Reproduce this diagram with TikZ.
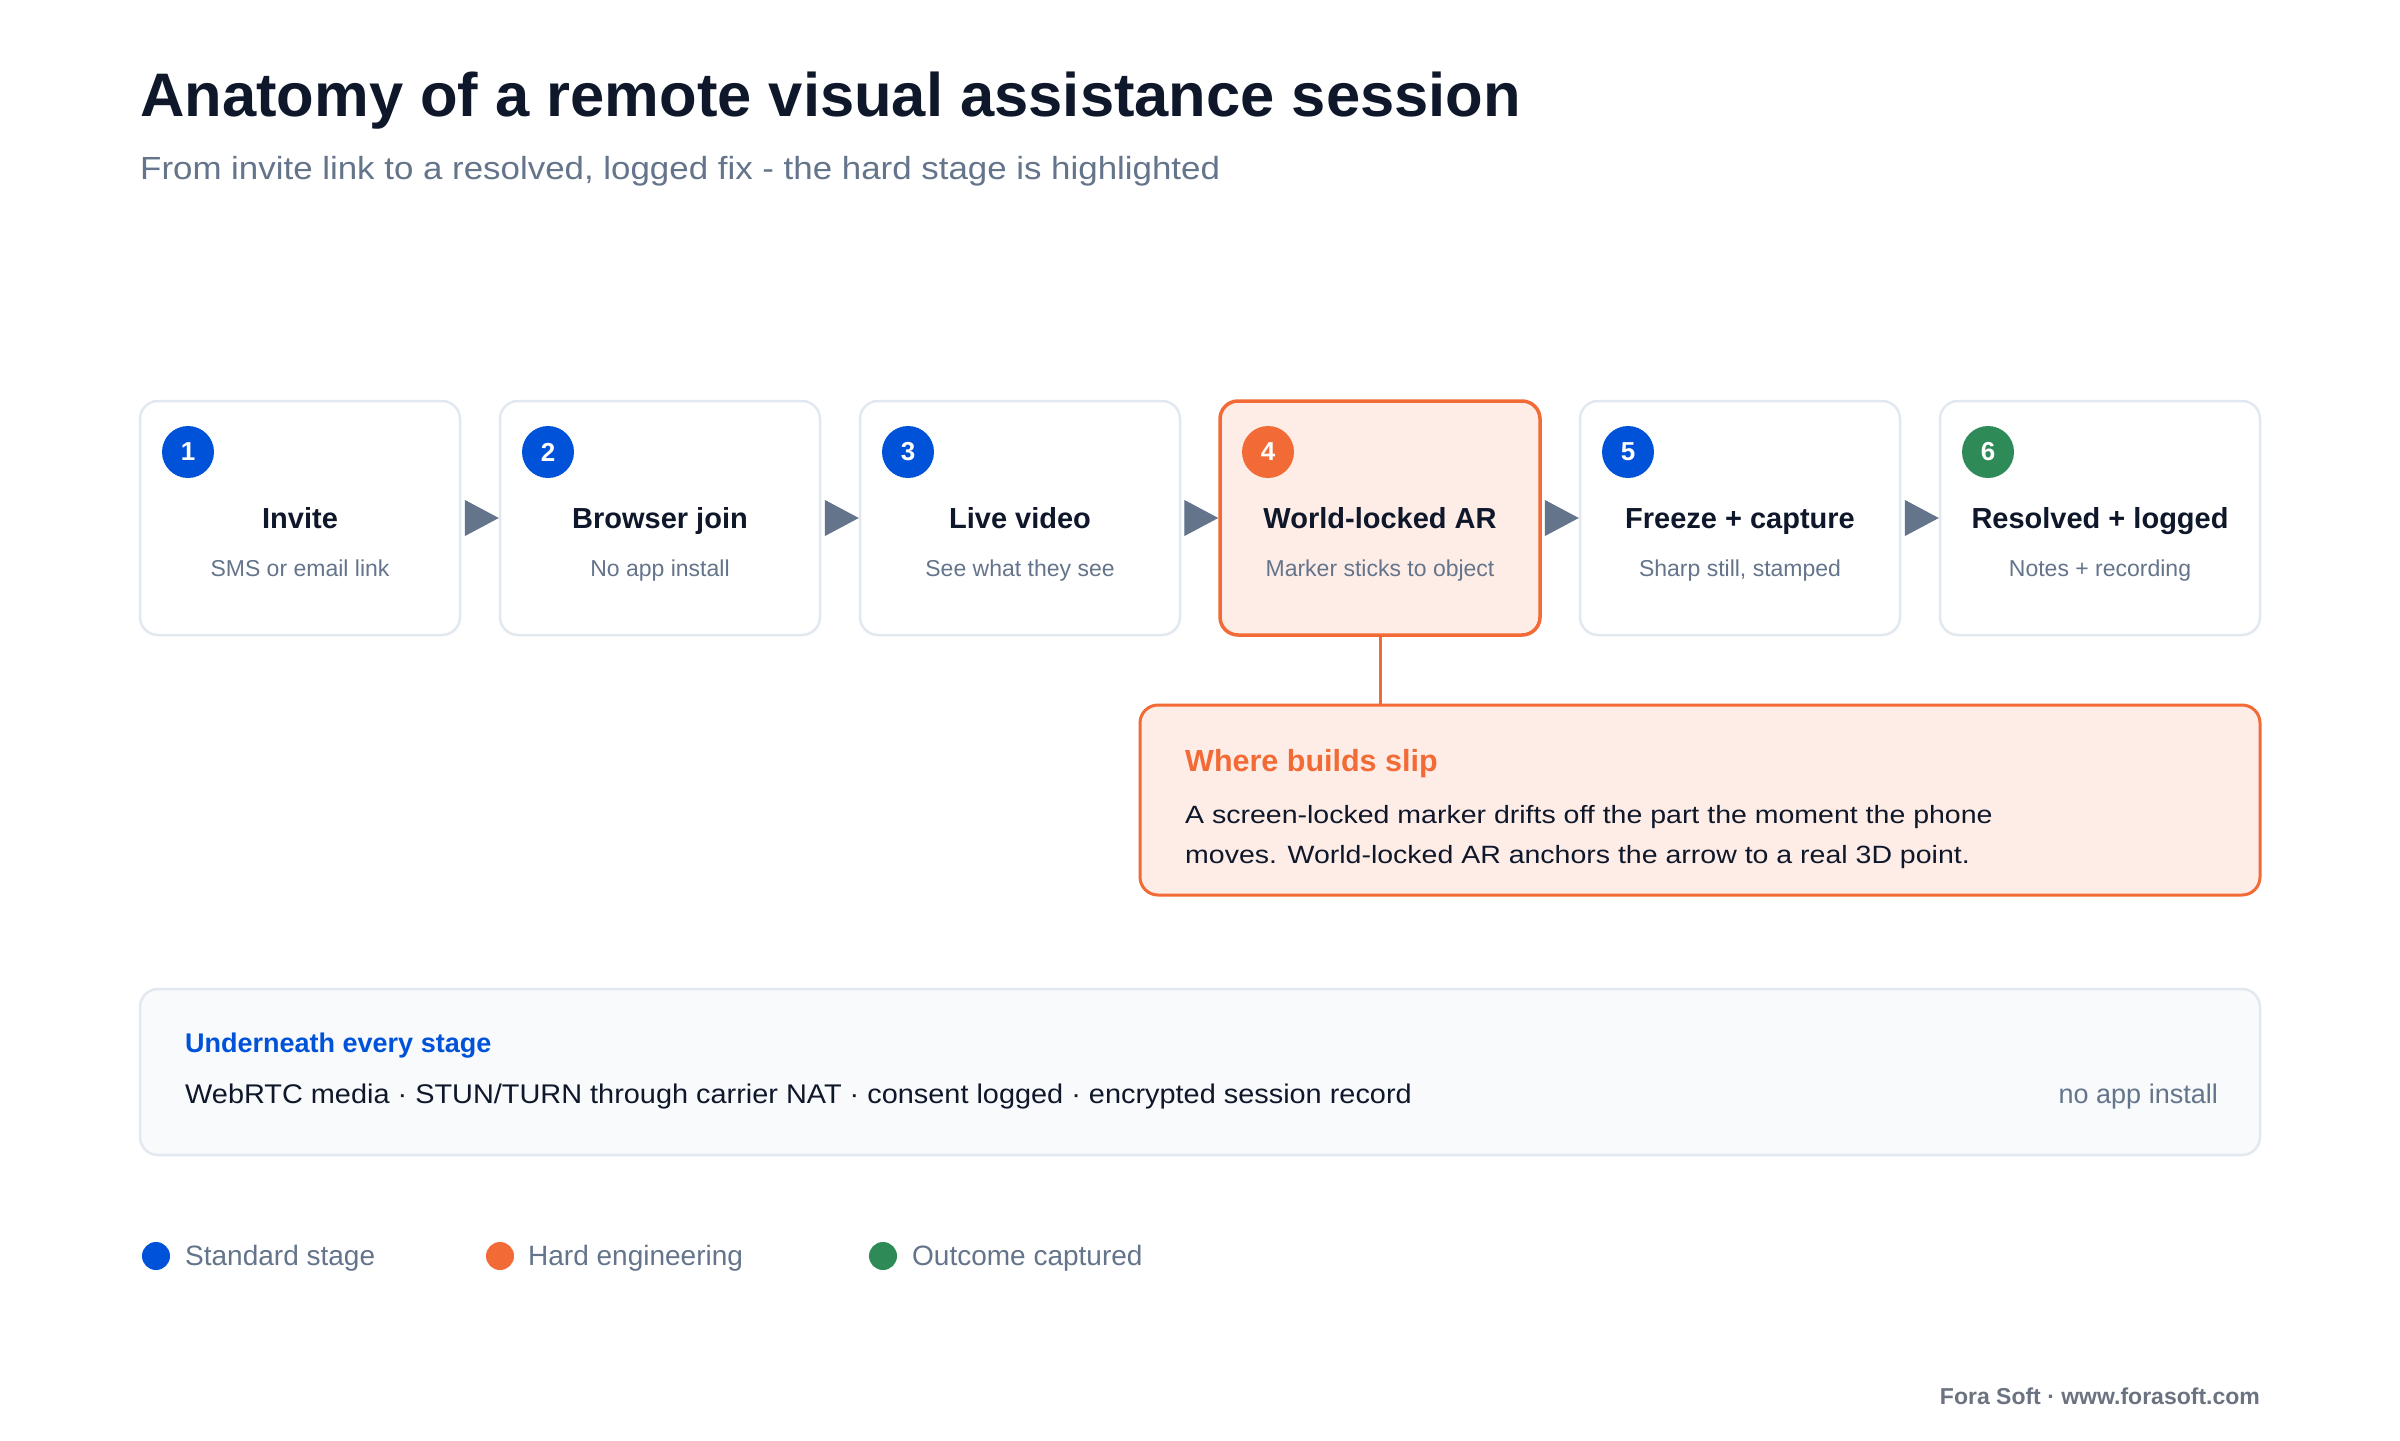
\documentclass[tikz,border=0pt]{standalone}
\usepackage{fontspec}
\setmainfont{Liberation Sans}
\newfontfamily\wideB[FakeStretch=1.09]{Liberation Sans}
\newfontfamily\wideC[FakeStretch=1.14]{Liberation Sans}
\newfontfamily\wideD[FakeStretch=1.07]{Liberation Sans}
\usetikzlibrary{arrows.meta}
\definecolor{ink}{HTML}{0F172A}
\definecolor{slate}{HTML}{64748B}
\definecolor{edgegray}{HTML}{E2E8F0}
\definecolor{blueS}{HTML}{0052D9}
\definecolor{orangeS}{HTML}{F26A35}
\definecolor{orangeBg}{HTML}{FDEDE6}
\definecolor{greenS}{HTML}{2E8A57}
\definecolor{panel}{HTML}{F8FAFC}
\definecolor{footgray}{HTML}{6B7280}
\begin{document}
\begin{tikzpicture}[x=1pt,y=-1pt,
  stagebox/.style={draw=edgegray, line width=2.5pt, fill=white, rounded corners=18pt, minimum width=320pt, minimum height=234pt, inner sep=0pt},
  hardbox/.style={stagebox, draw=orangeS, fill=orangeBg, line width=3.5pt},
  badge/.style={circle, fill=#1, minimum size=52pt, inner sep=0pt, text=white, font=\fontsize{26}{30}\selectfont\bfseries},
  txt/.style={inner sep=0pt, anchor=base},
  stitle/.style={txt, text=ink, font=\fontsize{29}{34}\selectfont\bfseries},
  ssub/.style={txt, text=slate, font=\fontsize{23}{27}\selectfont},
  flow/.style={draw=slate, line width=1pt, -{Triangle[length=34pt,width=36pt]}},
  legdot/.style={circle, fill=#1, minimum size=28pt, inner sep=0pt},
  legtxt/.style={inner sep=0pt, anchor=base west, text=slate, font=\fontsize{28}{32}\selectfont},
]
\useasboundingbox[fill=white] (0,0) rectangle (2400,1440);

% title
\node[inner sep=0pt, anchor=base west, text=ink, font=\fontsize{61.5}{72}\selectfont\bfseries] (title) at (140,116) {Anatomy of a remote visual assistance session};
\node[inner sep=0pt, anchor=base west, text=slate, font=\fontsize{32}{38}\wideB\selectfont] (subtitle) at (140,179) {From invite link to a resolved, logged fix - the hard stage is highlighted};

% stages
\foreach \i/\t/\s/\st/\c in {1/Invite/SMS or email link/stagebox/blueS,
  2/Browser join/No app install/stagebox/blueS,
  3/Live video/See what they see/stagebox/blueS,
  4/World-locked AR/Marker sticks to object/hardbox/orangeS,
  5/Freeze + capture/{Sharp still, stamped}/stagebox/blueS,
  6/Resolved + logged/Notes + recording/stagebox/greenS} {
  \node[\st] (b\i) at ({300+360*(\i-1)},518) {};
  \node[badge=\c] (n\i) at ({188+360*(\i-1)},452) {\i};
  \node[stitle] (t\i) at ({300+360*(\i-1)},528) {\t};
  \node[ssub] (s\i) at ({300+360*(\i-1)},576) {\s};
}
\foreach \i [evaluate=\i as \j using int(\i+1)] in {1,...,5}
  \path[flow] ([xshift=5pt]b\i.east) -- (b\j.west);

% callout
\node[draw=orangeS, fill=orangeBg, line width=3pt, rounded corners=18pt, minimum width=1120pt, minimum height=190pt, inner sep=0pt] (callout) at (1700,800) {};
\draw[orangeS, line width=3pt] (b4.south) -- (b4.south |- callout.north);
\node[inner sep=0pt, anchor=base west, text=orangeS, font=\fontsize{30.5}{36}\selectfont\bfseries] (ctitle) at (1185,771) {Where builds slip};
\node[inner sep=0pt, anchor=base west, text=ink, font=\fontsize{25}{30}\wideC\selectfont] (cl1) at (1185,823) {A screen-locked marker drifts off the part the moment the phone};
\node[inner sep=0pt, anchor=base west, text=ink, font=\fontsize{25}{30}\wideC\selectfont] (cl2) at (1185,863) {moves. World-locked AR anchors the arrow to a real 3D point.};

% underneath panel
\node[draw=edgegray, fill=panel, line width=2.5pt, rounded corners=18pt, minimum width=2120pt, minimum height=166pt, inner sep=0pt] (under) at (1200,1072) {};
\node[inner sep=0pt, anchor=base west, text=blueS, font=\fontsize{27}{32}\selectfont\bfseries] (utitle) at (185,1052) {Underneath every stage};
\node[inner sep=0pt, anchor=base west, text=ink, font=\fontsize{27}{32}\wideD\selectfont] (ubody) at (185,1103) {WebRTC media · STUN/TURN through carrier NAT · consent logged · encrypted session record};
\node[inner sep=0pt, anchor=base east, text=slate, font=\fontsize{27}{32}\selectfont] (unote) at (2218,1103) {no app install};

% legend
\node[legdot=blueS] (l1) at (156,1256) {};
\node[legtxt] (lt1) at (185,1265) {Standard stage};
\node[legdot=orangeS] (l2) at (500,1256) {};
\node[legtxt] (lt2) at (528,1265) {Hard engineering};
\node[legdot=greenS] (l3) at (883,1256) {};
\node[legtxt] (lt3) at (912,1265) {Outcome captured};

% footer
\node[inner sep=0pt, anchor=base east, text=footgray, font=\fontsize{23}{26}\selectfont\bfseries] (footer) at (2260,1404) {Fora Soft · www.forasoft.com};
\end{tikzpicture}
\end{document}
